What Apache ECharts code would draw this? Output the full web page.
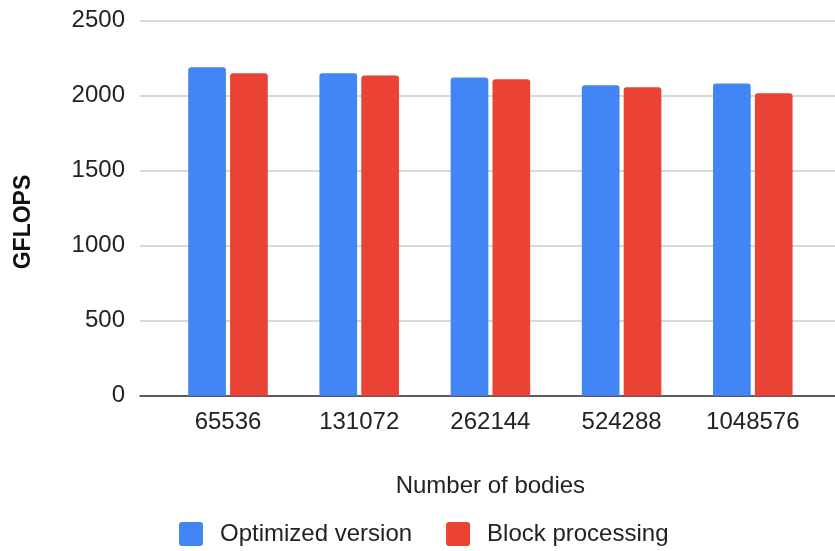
<!DOCTYPE html>
<html>
<head>
<meta charset="utf-8">
<script src="https://cdn.jsdelivr.net/npm/echarts@6/dist/echarts.min.js"></script>
<style>html,body{margin:0;padding:0;background:#fff;}#c{width:835px;height:551px;}</style>
</head>
<body>
<div id="c"></div>
<script>
const categories = ['65536', '131072', '262144', '524288', '1048576'];
const optimizedVersion = [2189, 2149, 2122, 2069, 2082];
const blockProcessing = [2149, 2135, 2109, 2056, 2016];
const yTicks = { min: 0, max: 2500, interval: 500 };

const font = 'Liberation Sans, Arial, sans-serif';
const chart = echarts.init(document.getElementById('c'));
chart.setOption({
  animation: false,
  backgroundColor: '#fff',
  grid: [
    { left: 140, right: 0, top: 20.7, bottom: 155.3 },
    { left: 162.4, right: 16.6, top: 20.7, bottom: 155.3 }
  ],
  xAxis: [
    { gridIndex: 0, type: 'value', min: 0, max: 1,
      axisLine: { show: true, lineStyle: { color: '#333', width: 1.5 } },
      axisTick: { show: false }, axisLabel: { show: false }, splitLine: { show: false } },
    { gridIndex: 1, type: 'category', data: categories,
      axisLine: { show: false }, axisTick: { show: false },
      axisLabel: { margin: 15, fontSize: 24, color: '#222', fontFamily: font },
      name: 'Number of bodies', nameLocation: 'middle', nameGap: 79,
      nameTextStyle: { fontSize: 24, color: '#222', fontFamily: font } }
  ],
  yAxis: [
    { gridIndex: 0, type: 'value', min: yTicks.min, max: yTicks.max, interval: yTicks.interval,
      axisLine: { show: false }, axisTick: { show: false },
      axisLabel: { margin: 15, fontSize: 24, color: '#222', fontFamily: font,
        formatter: function (v) { return String(v); } },
      splitLine: { lineStyle: { color: '#cccccc', width: 1.5 } } },
    { gridIndex: 1, type: 'value', min: yTicks.min, max: yTicks.max, interval: yTicks.interval,
      show: false, splitLine: { show: false } }
  ],
  legend: {
    left: 179, top: 522, padding: 0,
    itemWidth: 24, itemHeight: 24, itemGap: 34,
    icon: 'path://M3,0 L21,0 Q24,0 24,3 L24,21 Q24,24 21,24 L3,24 Q0,24 0,21 L0,3 Q0,0 3,0 Z',
    textStyle: { fontSize: 24, color: '#222', fontFamily: font, padding: [0, 0, 0, 12] },
    data: ['Optimized version', 'Block processing']
  },
  graphic: [{
    type: 'text', x: 23.5, y: 222, rotation: Math.PI / 2,
    style: { text: 'GFLOPS', fontSize: 23, fontWeight: 'bold', fill: '#111', fontFamily: font,
      align: 'center', verticalAlign: 'middle' }
  }],
  series: [
    { name: 'Optimized version', type: 'bar', xAxisIndex: 1, yAxisIndex: 1,
      data: optimizedVersion, barWidth: 37.7, barGap: '11%',
      itemStyle: { color: '#4285F4', borderRadius: [3, 3, 0, 0] } },
    { name: 'Block processing', type: 'bar', xAxisIndex: 1, yAxisIndex: 1,
      data: blockProcessing, barWidth: 37.7, barGap: '11%',
      itemStyle: { color: '#EA4335', borderRadius: [3, 3, 0, 0] } }
  ]
});
</script>
</body>
</html>
